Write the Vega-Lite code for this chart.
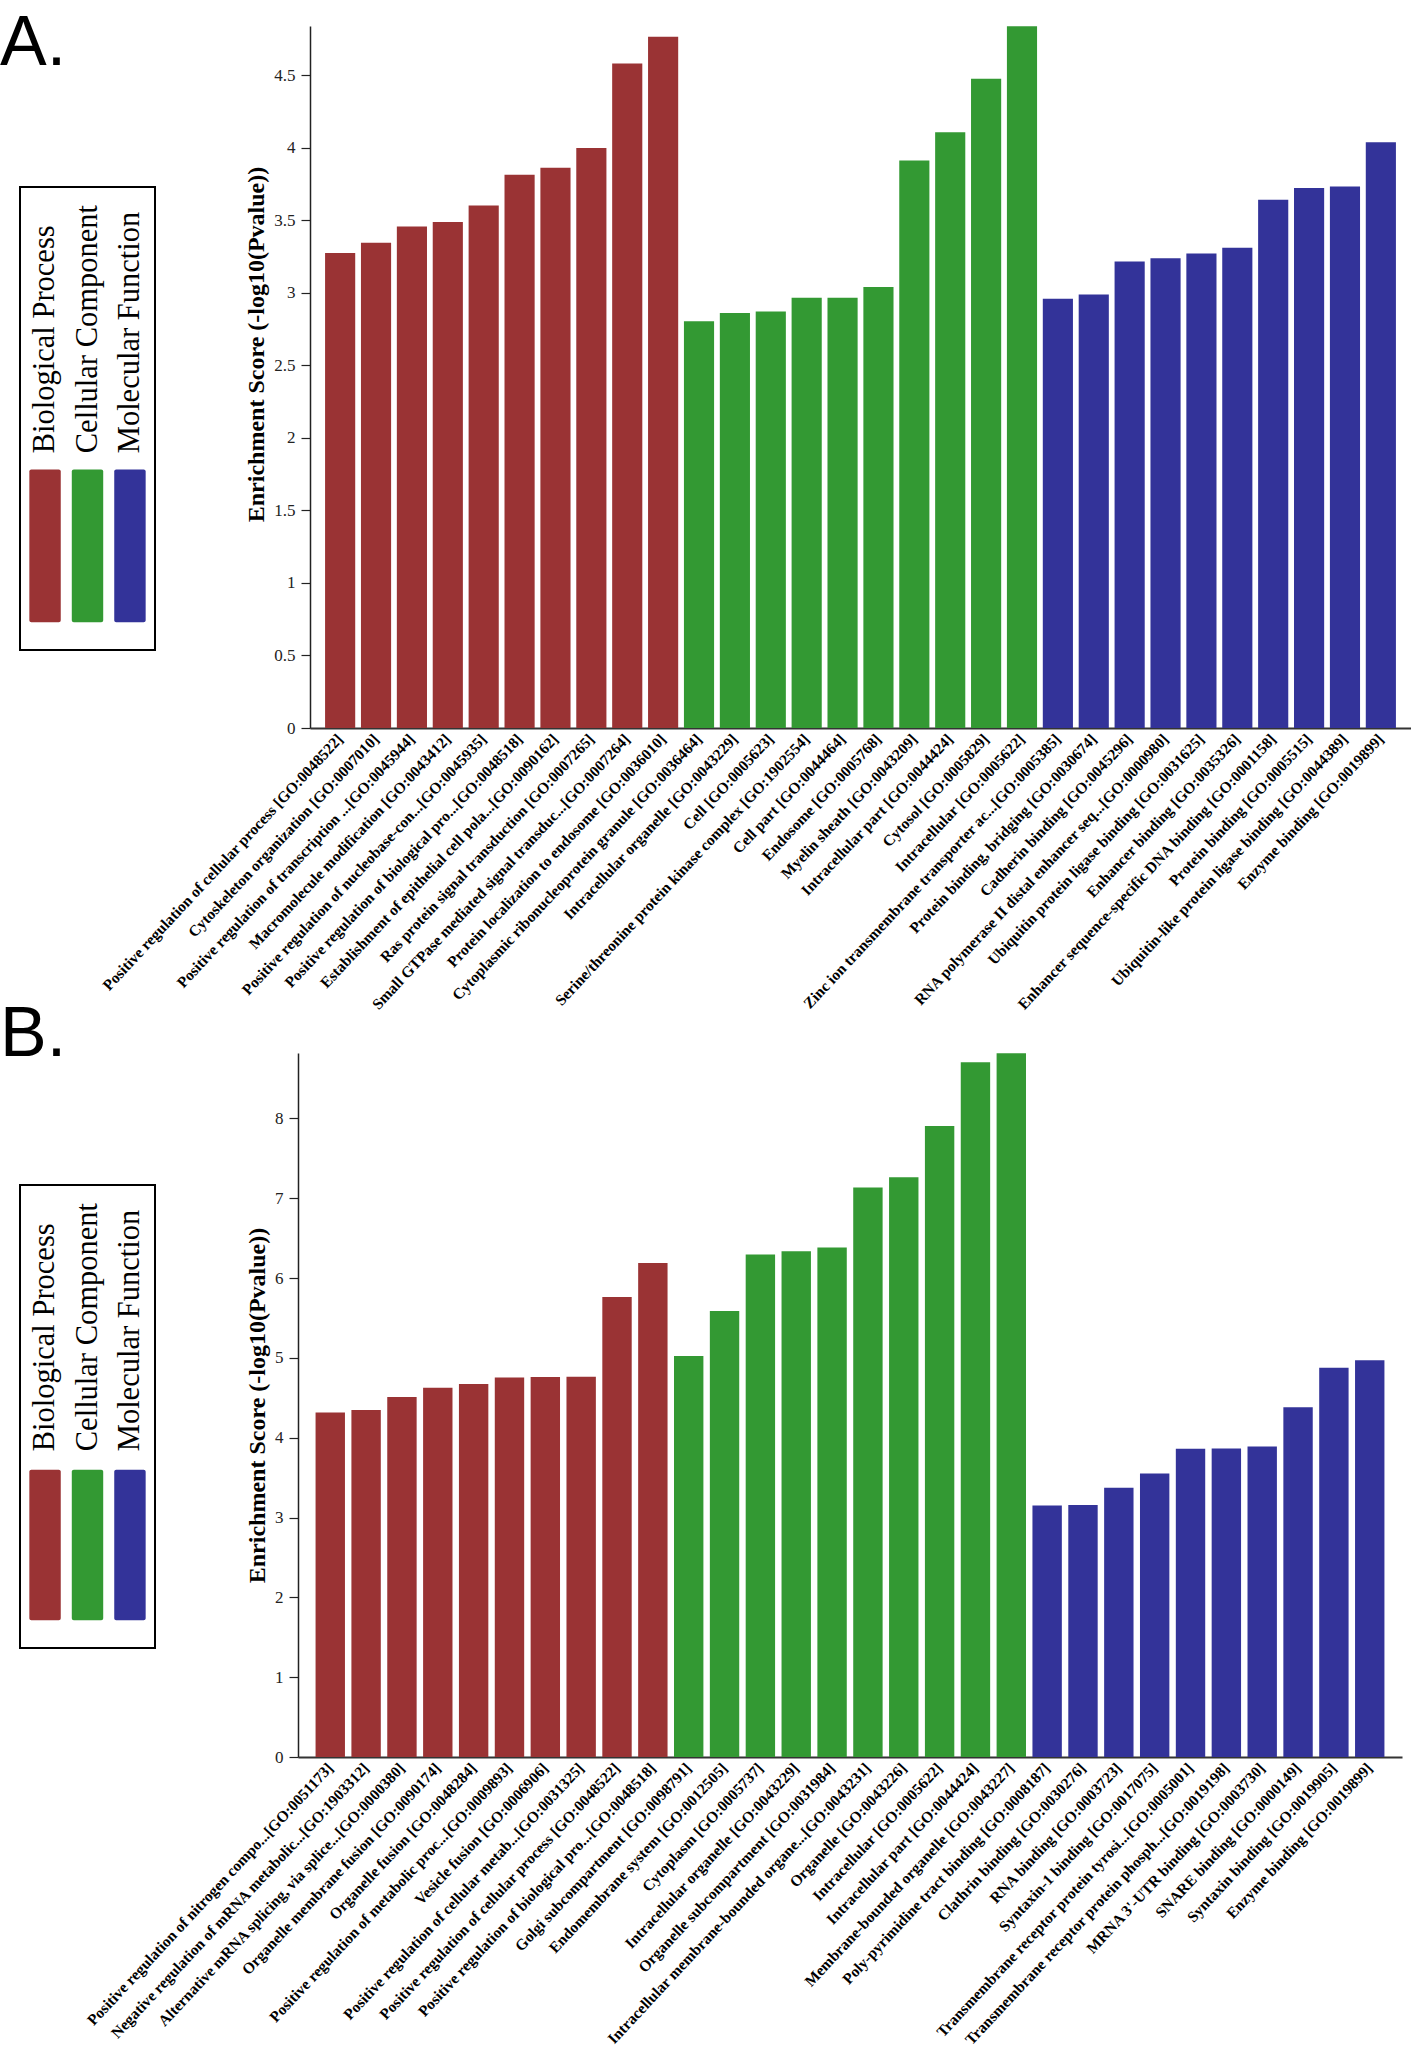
{
  "$schema": "https://vega.github.io/schema/vega-lite/v6.json",
  "padding": {"top": 8, "left": 0, "right": 0, "bottom": 0},
  "background": "white",
  "config": {
    "view": {"stroke": null},
    "font": "Liberation Serif",
    "bar": {"stroke": null}
  },
  "datasets": {
    "legend": [
      {"category": "Biological Process"},
      {"category": "Cellular Component"},
      {"category": "Molecular Function"}
    ],
    "A": [
      {"term": "Positive regulation of cellular process [GO:0048522]", "category": "Biological Process", "score": 3.275},
      {"term": "Cytoskeleton organization [GO:0007010]", "category": "Biological Process", "score": 3.346},
      {"term": "Positive regulation of transcription ...[GO:0045944]", "category": "Biological Process", "score": 3.457},
      {"term": "Macromolecule modification [GO:0043412]", "category": "Biological Process", "score": 3.489},
      {"term": "Positive regulation of nucleobase-con...[GO:0045935]", "category": "Biological Process", "score": 3.603},
      {"term": "Positive regulation of biological pro...[GO:0048518]", "category": "Biological Process", "score": 3.814},
      {"term": "Establishment of epithelial cell pola...[GO:0090162]", "category": "Biological Process", "score": 3.863},
      {"term": "Ras protein signal transduction [GO:0007265]", "category": "Biological Process", "score": 3.999},
      {"term": "Small GTPase mediated signal transduc...[GO:0007264]", "category": "Biological Process", "score": 4.581},
      {"term": "Protein localization to endosome [GO:0036010]", "category": "Biological Process", "score": 4.766},
      {"term": "Cytoplasmic ribonucleoprotein granule [GO:0036464]", "category": "Cellular Component", "score": 2.804},
      {"term": "Intracellular organelle [GO:0043229]", "category": "Cellular Component", "score": 2.862},
      {"term": "Cell [GO:0005623]", "category": "Cellular Component", "score": 2.872},
      {"term": "Serine/threonine protein kinase complex [GO:1902554]", "category": "Cellular Component", "score": 2.966},
      {"term": "Cell part [GO:0044464]", "category": "Cellular Component", "score": 2.966},
      {"term": "Endosome [GO:0005768]", "category": "Cellular Component", "score": 3.041},
      {"term": "Myelin sheath [GO:0043209]", "category": "Cellular Component", "score": 3.912},
      {"term": "Intracellular part [GO:0044424]", "category": "Cellular Component", "score": 4.107},
      {"term": "Cytosol [GO:0005829]", "category": "Cellular Component", "score": 4.477},
      {"term": "Intracellular [GO:0005622]", "category": "Cellular Component", "score": 4.838},
      {"term": "Zinc ion transmembrane transporter ac...[GO:0005385]", "category": "Molecular Function", "score": 2.96},
      {"term": "Protein binding, bridging [GO:0030674]", "category": "Molecular Function", "score": 2.989},
      {"term": "Cadherin binding [GO:0045296]", "category": "Molecular Function", "score": 3.216},
      {"term": "RNA polymerase II distal enhancer seq...[GO:0000980]", "category": "Molecular Function", "score": 3.239},
      {"term": "Ubiquitin protein ligase binding [GO:0031625]", "category": "Molecular Function", "score": 3.272},
      {"term": "Enhancer binding [GO:0035326]", "category": "Molecular Function", "score": 3.311},
      {"term": "Enhancer sequence-specific DNA binding [GO:0001158]", "category": "Molecular Function", "score": 3.642},
      {"term": "Protein binding [GO:0005515]", "category": "Molecular Function", "score": 3.723},
      {"term": "Ubiquitin-like protein ligase binding [GO:0044389]", "category": "Molecular Function", "score": 3.733},
      {"term": "Enzyme binding [GO:0019899]", "category": "Molecular Function", "score": 4.038}
    ],
    "B": [
      {"term": "Positive regulation of nitrogen compo...[GO:0051173]", "category": "Biological Process", "score": 4.317},
      {"term": "Negative regulation of mRNA metabolic...[GO:1903312]", "category": "Biological Process", "score": 4.347},
      {"term": "Alternative mRNA splicing, via splice...[GO:0000380]", "category": "Biological Process", "score": 4.51},
      {"term": "Organelle membrane fusion [GO:0090174]", "category": "Biological Process", "score": 4.627},
      {"term": "Organelle fusion [GO:0048284]", "category": "Biological Process", "score": 4.673},
      {"term": "Positive regulation of metabolic proc...[GO:0009893]", "category": "Biological Process", "score": 4.755},
      {"term": "Vesicle fusion [GO:0006906]", "category": "Biological Process", "score": 4.761},
      {"term": "Positive regulation of cellular metab...[GO:0031325]", "category": "Biological Process", "score": 4.765},
      {"term": "Positive regulation of cellular process [GO:0048522]", "category": "Biological Process", "score": 5.764},
      {"term": "Positive regulation of biological pro...[GO:0048518]", "category": "Biological Process", "score": 6.19},
      {"term": "Golgi subcompartment [GO:0098791]", "category": "Cellular Component", "score": 5.023},
      {"term": "Endomembrane system [GO:0012505]", "category": "Cellular Component", "score": 5.589},
      {"term": "Cytoplasm [GO:0005737]", "category": "Cellular Component", "score": 6.295},
      {"term": "Intracellular organelle [GO:0043229]", "category": "Cellular Component", "score": 6.336},
      {"term": "Organelle subcompartment [GO:0031984]", "category": "Cellular Component", "score": 6.383},
      {"term": "Intracellular membrane-bounded organe...[GO:0043231]", "category": "Cellular Component", "score": 7.135},
      {"term": "Organelle [GO:0043226]", "category": "Cellular Component", "score": 7.264},
      {"term": "Intracellular [GO:0005622]", "category": "Cellular Component", "score": 7.905},
      {"term": "Intracellular part [GO:0044424]", "category": "Cellular Component", "score": 8.705},
      {"term": "Membrane-bounded organelle [GO:0043227]", "category": "Cellular Component", "score": 8.816},
      {"term": "Poly-pyrimidine tract binding [GO:0008187]", "category": "Molecular Function", "score": 3.15},
      {"term": "Clathrin binding [GO:0030276]", "category": "Molecular Function", "score": 3.156},
      {"term": "RNA binding [GO:0003723]", "category": "Molecular Function", "score": 3.372},
      {"term": "Syntaxin-1 binding [GO:0017075]", "category": "Molecular Function", "score": 3.553},
      {"term": "Transmembrane receptor protein tyrosi...[GO:0005001]", "category": "Molecular Function", "score": 3.862},
      {"term": "Transmembrane receptor protein phosph...[GO:0019198]", "category": "Molecular Function", "score": 3.865},
      {"term": "MRNA 3'-UTR binding [GO:0003730]", "category": "Molecular Function", "score": 3.891},
      {"term": "SNARE binding [GO:0000149]", "category": "Molecular Function", "score": 4.382},
      {"term": "Syntaxin binding [GO:0019905]", "category": "Molecular Function", "score": 4.877},
      {"term": "Enzyme binding [GO:0019899]", "category": "Molecular Function", "score": 4.971}
    ]
  },
  "spacing": -14,
  "vconcat": [
    {
      "title": {"text": "A.", "anchor": "start", "frame": "group", "font": "Liberation Sans", "fontSize": 70, "fontWeight": "normal", "color": "black", "offset": -53.5, "dx": -20},
      "spacing": -57,
      "hconcat": [
        {
          "spacing": 0,
          "vconcat": [
            {"width": 135, "height": 160, "data": {"values": []}, "mark": {"type": "point", "opacity": 0}},
            {
              "data": {"name": "legend"},
              "width": 135,
              "height": 463,
              "view": {"stroke": "black", "strokeWidth": 2},
              "layer": [
                {
                  "mark": {"type": "bar", "cornerRadius": 2},
                  "encoding": {
                    "x": {"field": "category", "type": "nominal", "sort": null, "axis": null, "scale": {"paddingInner": 0.26, "paddingOuter": 0.22}},
                    "y": {"datum": 3.9, "type": "quantitative", "scale": {"domain": [0, 10], "nice": false}, "axis": null},
                    "y2": {"datum": 0.6},
                    "color": {"field": "category", "type": "nominal", "legend": null, "scale": {"domain": ["Biological Process", "Cellular Component", "Molecular Function"], "range": ["#9a3334", "#339933", "#333399"]}}
                  }
                },
                {
                  "mark": {"type": "text", "angle": 270, "align": "left", "baseline": "middle", "font": "Liberation Serif", "fontSize": 30.5, "color": "black"},
                  "encoding": {
                    "x": {"field": "category", "type": "nominal", "sort": null, "axis": null},
                    "y": {"datum": 4.25, "type": "quantitative"},
                    "text": {"field": "category"}
                  }
                }
              ]
            }
          ]
        },
        {
          "data": {"name": "A"},
          "width": 1101,
          "height": 702,
          "mark": {"type": "bar"},
          "encoding": {
            "x": {
              "field": "term", "type": "nominal", "sort": null, "title": null,
              "scale": {"paddingInner": 0.16, "paddingOuter": 0.42},
              "axis": {"labelAngle": -47, "labelAlign": "right", "labelBaseline": "middle", "labelFont": "Liberation Serif", "labelFontWeight": "bold", "labelFontSize": 15.5, "labelColor": "black", "labelLimit": 700, "labelOverlap": false, "ticks": false, "labelPadding": 8, "domainColor": "#333333", "domainWidth": 2}
            },
            "y": {
              "field": "score", "type": "quantitative",
              "scale": {"domain": [0, 4.84], "nice": false},
              "axis": {"values": [0, 0.5, 1, 1.5, 2, 2.5, 3, 3.5, 4, 4.5], "format": "~g", "grid": false, "title": "Enrichment Score (-log10(Pvalue))", "titleFont": "Liberation Serif", "titleFontWeight": "bold", "titleFontSize": 24, "titleColor": "black", "titlePadding": 5.5, "titleY": 318, "labelFont": "Liberation Serif", "labelFontSize": 17, "labelColor": "#222222", "labelPadding": 6, "tickSize": 9, "tickColor": "#222222", "tickWidth": 1.2, "domainColor": "#222222", "domainWidth": 1.5}
            },
            "color": {"field": "category", "type": "nominal", "legend": null, "scale": {"domain": ["Biological Process", "Cellular Component", "Molecular Function"], "range": ["#9a3334", "#339933", "#333399"]}}
          }
        }
      ]
    },
    {
      "title": {"text": "B.", "anchor": "start", "frame": "group", "font": "Liberation Sans", "fontSize": 70, "fontWeight": "normal", "color": "black", "offset": -18, "dx": -20},
      "spacing": -72,
      "hconcat": [
        {
          "spacing": 0,
          "vconcat": [
            {"width": 135, "height": 131, "data": {"values": []}, "mark": {"type": "point", "opacity": 0}},
            {
              "data": {"name": "legend"},
              "width": 135,
              "height": 463,
              "view": {"stroke": "black", "strokeWidth": 2},
              "layer": [
                {
                  "mark": {"type": "bar", "cornerRadius": 2},
                  "encoding": {
                    "x": {"field": "category", "type": "nominal", "sort": null, "axis": null, "scale": {"paddingInner": 0.26, "paddingOuter": 0.22}},
                    "y": {"datum": 3.85, "type": "quantitative", "scale": {"domain": [0, 10], "nice": false}, "axis": null},
                    "y2": {"datum": 0.6},
                    "color": {"field": "category", "type": "nominal", "legend": null, "scale": {"domain": ["Biological Process", "Cellular Component", "Molecular Function"], "range": ["#9a3334", "#339933", "#333399"]}}
                  }
                },
                {
                  "mark": {"type": "text", "angle": 270, "align": "left", "baseline": "middle", "font": "Liberation Serif", "fontSize": 30.5, "color": "black"},
                  "encoding": {
                    "x": {"field": "category", "type": "nominal", "sort": null, "axis": null},
                    "y": {"datum": 4.25, "type": "quantitative"},
                    "text": {"field": "category"}
                  }
                }
              ]
            }
          ]
        },
        {
          "data": {"name": "B"},
          "width": 1104,
          "height": 704,
          "mark": {"type": "bar"},
          "encoding": {
            "x": {
              "field": "term", "type": "nominal", "sort": null, "title": null,
              "scale": {"paddingInner": 0.18, "paddingOuter": 0.49},
              "axis": {"labelAngle": -47, "labelAlign": "right", "labelBaseline": "middle", "labelFont": "Liberation Serif", "labelFontWeight": "bold", "labelFontSize": 15.5, "labelColor": "black", "labelLimit": 700, "labelOverlap": false, "ticks": false, "labelPadding": 8, "domainColor": "#333333", "domainWidth": 2}
            },
            "y": {
              "field": "score", "type": "quantitative",
              "scale": {"domain": [0, 8.82], "nice": false},
              "axis": {"values": [0, 1, 2, 3, 4, 5, 6, 7, 8], "format": "~g", "grid": false, "title": "Enrichment Score (-log10(Pvalue))", "titleFont": "Liberation Serif", "titleFontWeight": "bold", "titleFontSize": 24, "titleColor": "black", "titlePadding": 5.5, "labelFont": "Liberation Serif", "labelFontSize": 17, "labelColor": "#222222", "labelPadding": 6, "tickSize": 9, "tickColor": "#222222", "tickWidth": 1.2, "domainColor": "#222222", "domainWidth": 1.5}
            },
            "color": {"field": "category", "type": "nominal", "legend": null, "scale": {"domain": ["Biological Process", "Cellular Component", "Molecular Function"], "range": ["#9a3334", "#339933", "#333399"]}}
          }
        }
      ]
    }
  ]
}
